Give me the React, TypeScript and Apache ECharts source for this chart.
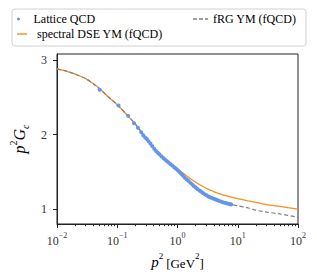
import React, { useEffect, useRef } from "react";
import * as echarts from "echarts";

// DSE (orange)
const dseP2 = [0.01, 0.015, 0.02, 0.03, 0.04, 0.05, 0.07, 0.1, 0.15, 0.2, 0.3, 0.4, 0.5, 0.7, 1.0, 1.5, 2, 3, 4, 5, 7, 10, 15, 20, 30, 50, 100];
const dseVal = [2.88, 2.845, 2.81, 2.75, 2.68, 2.62, 2.51, 2.40, 2.25, 2.14, 1.95, 1.82, 1.74, 1.64, 1.54, 1.43, 1.36, 1.28, 1.235, 1.205, 1.17, 1.14, 1.11, 1.09, 1.06, 1.035, 1.0];

// fRG (gray dashed)
const frgP2 = [0.01, 0.015, 0.02, 0.03, 0.04, 0.05, 0.07, 0.1, 0.15, 0.2, 0.3, 0.4, 0.5, 0.7, 1.0, 1.5, 2, 3, 5, 7.8, 10, 15, 20, 30, 50, 100];
const frgVal = [2.88, 2.845, 2.81, 2.75, 2.68, 2.62, 2.51, 2.40, 2.25, 2.14, 1.95, 1.82, 1.74, 1.635, 1.525, 1.39, 1.29, 1.19, 1.11, 1.063, 1.045, 1.015, 0.985, 0.96, 0.935, 0.89];

// Lattice QCD points
const latP2 = [0.051, 0.105, 0.152, 0.19, 0.22, 0.25, 0.27, 0.29, 0.31, 0.33, 0.355, 0.38, 0.41, 0.44, 0.47, 0.50, 0.54, 0.58, 0.62, 0.665, 0.71, 0.76, 0.82, 0.88, 0.94, 1.0, 1.07, 1.15, 1.23, 1.32, 1.41, 1.51, 1.62, 1.74, 1.86, 2.0, 2.14, 2.3, 2.46, 2.64, 2.83, 3.03, 3.25, 3.48, 3.73, 4.0, 4.3, 4.6, 4.9, 5.3, 5.7, 6.1, 6.5, 7.0, 7.5, 7.8];
const latVal = [2.60, 2.39, 2.25, 2.15, 2.09, 2.03, 1.99, 1.96, 1.94, 1.91, 1.88, 1.845, 1.81, 1.78, 1.755, 1.735, 1.71, 1.685, 1.665, 1.645, 1.625, 1.605, 1.585, 1.56, 1.545, 1.525, 1.50, 1.475, 1.45, 1.42, 1.40, 1.38, 1.355, 1.335, 1.31, 1.29, 1.27, 1.25, 1.235, 1.215, 1.20, 1.185, 1.17, 1.16, 1.15, 1.14, 1.13, 1.12, 1.11, 1.10, 1.09, 1.085, 1.078, 1.072, 1.066, 1.063];

const yTicks = [1, 2, 3];

const FONT = "Liberation Serif";

export default function App() {
  const ref = useRef<HTMLDivElement>(null);
  useEffect(() => {
    if (!ref.current) return;
    const chart = echarts.init(ref.current, null, { renderer: "svg" });
    const zip = (a: number[], b: number[]) => a.map((x, i) => [x, b[i]]);
    const supFmt = (v: number) => {
      const e = Math.round(Math.log10(v));
      return `{b|10}{s|${e < 0 ? "\u2212" + -e : e}}`;
    };
    const legendText = { fontFamily: FONT, fontSize: 12, color: "#000" };
    chart.setOption({
      animation: false,
      textStyle: { fontFamily: FONT },
      grid: { left: 46, right: 19, top: 54, bottom: 51, show: true, borderColor: "#222", borderWidth: 1, backgroundColor: "transparent" },
      graphic: [
        {
          type: "rect",
          shape: { x: 12, y: 9, width: 294, height: 37, r: 3 },
          style: { fill: "#fff", stroke: "#d0d0d0", lineWidth: 1 },
          z: 0,
        },
      ],
      legend: [
        {
          data: [{ name: "Lattice QCD", icon: "circle" }],
          left: 17, top: 13, padding: 0, itemWidth: 10, itemHeight: 3, selectedMode: false,
          textStyle: { ...legendText, padding: [0, 0, 0, 5] },
        },
        {
          data: [{ name: "spectral DSE YM (fQCD)", icon: "rect" }],
          left: 17, top: 28, padding: 0, itemWidth: 10, itemHeight: 1.4, selectedMode: false,
          textStyle: { ...legendText, padding: [0, 0, 0, 5] },
        },
        {
          data: [{ name: "fRG YM (fQCD)", icon: "path://M0,0h4v1h-4z M6,0h4v1h-4z M12,0h3v1h-3z" }],
          left: 193, top: 13, padding: 0, itemWidth: 15, itemHeight: 1.3, selectedMode: false,
          symbolKeepAspect: false,
          textStyle: legendText,
        },
      ],
      xAxis: {
        type: "log",
        logBase: 10,
        min: 0.01,
        max: 100,
        splitNumber: 4,
        splitLine: { show: false },
        axisLine: { lineStyle: { color: "#222", width: 1 } },
        axisTick: { length: 4, lineStyle: { color: "#222" } },
        minorTick: { show: true, splitNumber: 9, length: 2.2, lineStyle: { color: "#222" } },
        axisLabel: {
          margin: 7,
          formatter: supFmt,
          rich: {
            b: { fontFamily: FONT, fontSize: 12, color: "#333", verticalAlign: "bottom", lineHeight: 16 },
            s: { fontFamily: FONT, fontSize: 8, color: "#333", verticalAlign: "top", lineHeight: 16 },
          },
        },
        name: "{i|p}{s|2} {r|[GeV}{s|2}{r|]}",
        nameLocation: "middle",
        nameGap: 27,
        nameTextStyle: {
          rich: {
            i: { fontFamily: FONT, fontStyle: "italic", fontSize: 15, color: "#000", verticalAlign: "bottom", lineHeight: 18 },
            r: { fontFamily: FONT, fontSize: 13, color: "#000", verticalAlign: "bottom", lineHeight: 18 },
            s: { fontFamily: FONT, fontSize: 9, color: "#000", verticalAlign: "top", lineHeight: 18 },
          },
        },
      },
      yAxis: {
        type: "value",
        min: 0.8,
        max: 3.08,
        splitLine: { show: false },
        axisLine: { show: true, lineStyle: { color: "#222", width: 1 } },
        axisTick: { show: true, length: 4, customValues: yTicks, lineStyle: { color: "#222" } },
        axisLabel: { customValues: yTicks, margin: 10, fontFamily: FONT, fontSize: 12, color: "#333" },
        name: "{i|p}{s|2}{i|G}{c|c}",
        nameLocation: "middle",
        nameGap: 27,
        nameTextStyle: {
          rich: {
            i: { fontFamily: FONT, fontStyle: "italic", fontSize: 16, color: "#000", verticalAlign: "middle", lineHeight: 22 },
            s: { fontFamily: FONT, fontSize: 10, color: "#000", verticalAlign: "top", lineHeight: 22 },
            c: { fontFamily: FONT, fontStyle: "italic", fontSize: 10, color: "#000", verticalAlign: "bottom", lineHeight: 22 },
          },
        },
      },
      series: [
        {
          name: "spectral DSE YM (fQCD)",
          type: "line",
          data: zip(dseP2, dseVal),
          symbol: "none",
          smooth: 0.3,
          lineStyle: { color: "#ff8c1a", width: 1.3 },
          itemStyle: { color: "#ff8c1a" },
          z: 2,
        },
        {
          name: "fRG YM (fQCD)",
          type: "line",
          data: zip(frgP2, frgVal),
          symbol: "none",
          smooth: 0.3,
          lineStyle: { color: "#808080", width: 1.2, type: [4, 2.5] },
          itemStyle: { color: "#808080" },
          z: 3,
        },
        {
          name: "Lattice QCD",
          type: "scatter",
          data: zip(latP2, latVal),
          symbolSize: 4,
          itemStyle: { color: "#6495ed", opacity: 1 },
          z: 4,
        },
      ],
    });
    return () => chart.dispose();
  }, []);
  return (
    <div
      ref={ref}
      style={{ position: "fixed", left: 0, top: 0, width: 317, height: 275, background: "#fff" }}
    />
  );
}
